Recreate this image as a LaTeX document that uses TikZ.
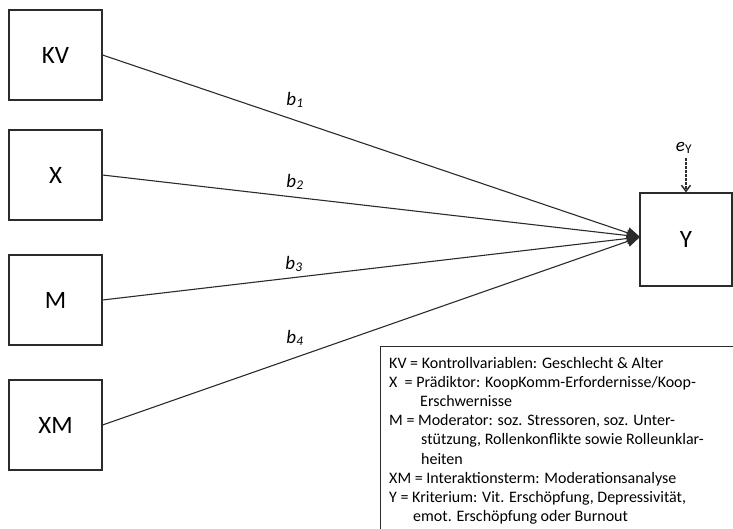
\documentclass[tikz,border=0pt]{standalone}
\usepackage{fontspec}
\setmainfont{Carlito}
\usetikzlibrary{arrows.meta}
\definecolor{lc}{HTML}{2B2B2B}
\begin{document}
\begin{tikzpicture}[x=1pt,y=-1pt,
  varbox/.style={draw=lc,line width=1.1pt,minimum width=93pt,minimum height=90pt,inner sep=0pt,font=\fontsize{25}{28}\selectfont},
  path/.style={draw=lc,line width=1.1pt},
  coef/.style={font=\fontsize{19}{21}\selectfont\itshape,inner sep=0pt},
  leg/.style={anchor=base west,inner sep=0pt,font=\fontsize{16}{18}\selectfont}]
\useasboundingbox (0,0) rectangle (733,528);
\node[varbox] (kv) at (55.5,55) {KV};
\node[varbox] (x) at (55.5,175) {X};
\node[varbox] (m) at (55.5,300) {M};
\node[varbox] (xm) at (55.5,425) {XM};
\node[varbox,minimum width=92pt,minimum height=93pt] (y) at (686,239.5) {Y};
\coordinate (tip) at (640,237);
\foreach \n in {kv,x,m,xm}
  \draw[path,-{Triangle[length=13pt,width=11pt]}] (\n.east) -- (tip);
\node[coef] (b1) at (295,100) {b\textsubscript{1}};
\node[coef] (b2) at (295,182) {b\textsubscript{2}};
\node[coef] (b3) at (294,264) {b\textsubscript{3}};
\node[coef] (b4) at (295,338) {b\textsubscript{4}};
\node[coef] (ey) at (684,148) {e\textsubscript{\upshape Y}};
\draw[path,line width=1.5pt,dash pattern=on 2.5pt off 1.5pt,-{Straight Barb[length=6pt,width=9pt]}] (ey.south -| y.north) ++(0,4) -- (y.north);
\draw[draw=lc,line width=1pt] (735,346) -- (380.5,346) -- (380.5,530);
\node[leg] (l1) at (389,368) {KV = Kontrollvariablen: Geschlecht \& Alter};
\node[leg] (l2) at (389,387.2) {X\ \ = Prädiktor: KoopKomm-Erfordernisse/Koop-};
\node[leg] (l3) at (420,406.4) {Erschwernisse};
\node[leg] (l4) at (389,425.6) {M = Moderator: soz. Stressoren, soz. Unter-};
\node[leg] (l5) at (421,444.8) {stützung, Rollenkonflikte sowie Rolleunklar-};
\node[leg] (l6) at (421,464) {heiten};
\node[leg] (l7) at (389,483.2) {XM = Interaktionsterm: Moderationsanalyse};
\node[leg] (l8) at (389,502.4) {Y = Kriterium: Vit. Erschöpfung, Depressivität,};
\node[leg] (l9) at (413,521.6) {emot. Erschöpfung oder Burnout};
\end{tikzpicture}
\end{document}
